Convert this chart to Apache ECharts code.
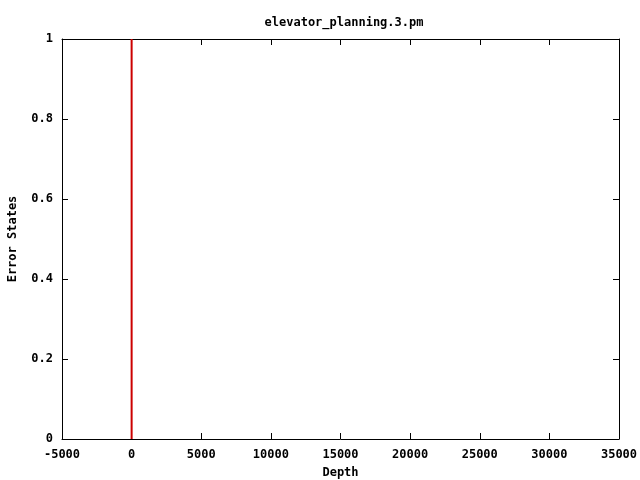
<!DOCTYPE html>
<html><head><meta charset="utf-8">
<script src="https://cdn.jsdelivr.net/npm/echarts@6/dist/echarts.min.js"></script>
<style>html,body{margin:0;padding:0;background:#fff}#c{width:640px;height:480px}</style>
</head><body><div id="c"></div>
<script>
const titleText = "elevator_planning.3.pm";
const xName = "Depth";
const yName = "Error States";
const depth = [0, 0];
const errorStates = [0, 1];
const xMin = -5000, xMax = 35000, xStep = 5000;
const yMin = 0, yMax = 1, yStep = 0.2;

const font = {fontFamily: "DejaVu Sans Mono", fontWeight: "bold", fontSize: 12, color: "#000"};
const chart = echarts.init(document.getElementById('c'), null, {renderer: 'canvas'});
const axisCommon = {
  axisLine: {show: true, onZero: false, lineStyle: {color: '#000', width: 1}},
  axisTick: {show: true, inside: true, length: 6, lineStyle: {color: '#000'}},
  splitLine: {show: false}
};
chart.setOption({
  animation: false,
  backgroundColor: '#fff',
  title: {text: titleText, left: 339, top: 12, textAlign: 'center', textStyle: Object.assign({}, font)},
  grid: {left: 62, right: 21, top: 39, bottom: 41, containLabel: false, outerBoundsMode: 'none'},
  xAxis: [
    Object.assign({type: 'value', min: xMin, max: xMax, interval: xStep, position: 'bottom',
      axisLabel: Object.assign({margin: 10, formatter: v => String(v)}, font),
      name: xName, nameLocation: 'middle', nameGap: 28, nameTextStyle: Object.assign({}, font)}, axisCommon),
    Object.assign({type: 'value', min: xMin, max: xMax, interval: xStep, position: 'top',
      axisLabel: {show: false}}, axisCommon)
  ],
  yAxis: [
    Object.assign({type: 'value', min: yMin, max: yMax, interval: yStep, position: 'left',
      axisLabel: Object.assign({margin: 9, formatter: v => String(Math.round(v*10)/10)}, font),
      name: yName, nameLocation: 'middle', nameGap: 43, nameTextStyle: Object.assign({}, font)}, axisCommon),
    Object.assign({type: 'value', min: yMin, max: yMax, interval: yStep, position: 'right',
      axisLabel: {show: false}}, axisCommon)
  ],
  series: [{
    type: 'line',
    data: depth.map((d, i) => [d, errorStates[i]]),
    symbol: 'none',
    lineStyle: {color: '#cc0000', width: 2},
    xAxisIndex: 0, yAxisIndex: 0
  }]
});
</script></body></html>
